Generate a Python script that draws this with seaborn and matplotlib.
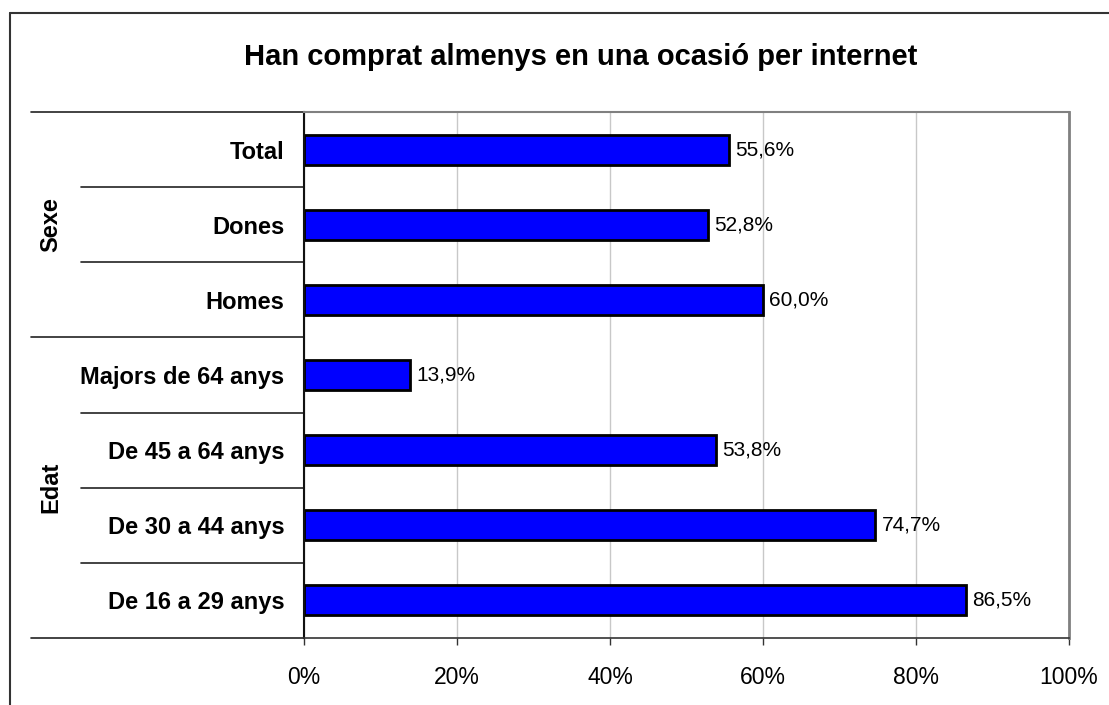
import matplotlib
matplotlib.use('Agg')
import matplotlib.pyplot as plt
import seaborn as sns
import pandas as pd
from matplotlib.lines import Line2D
from matplotlib.transforms import blended_transform_factory

categories = ["Total", "Dones", "Homes", "Majors de 64 anys",
              "De 45 a 64 anys", "De 30 a 44 anys", "De 16 a 29 anys"]
values = [55.6, 52.8, 60.0, 13.9, 53.8, 74.7, 86.5]
groups = ["Sexe", "Edat"]
group_spans = [(0, 2), (3, 6)]
xticks = [0, 20, 40, 60, 80, 100]
title = "Han comprat almenys en una ocasió per internet"

sns.set_theme(style='white')
plt.rcParams['font.family'] = ['Liberation Sans', 'DejaVu Sans']
plt.rcParams['text.color'] = 'black'
plt.rcParams['xtick.labelcolor'] = 'black'
plt.rcParams['ytick.labelcolor'] = 'black'
plt.rcParams['axes.labelcolor'] = 'black'

W, H = 1109, 705
fig = plt.figure(figsize=(W / 100, H / 100), dpi=100)
left_px, right_px, top_px, bot_px = 304, 1069, 112, 638
ax = fig.add_axes([left_px / W, 1 - bot_px / H, (right_px - left_px) / W, (bot_px - top_px) / H])

df = pd.DataFrame({'cat': categories, 'val': values})
sns.barplot(data=df, y='cat', x='val', orient='h', color='#0000FF', saturation=1,
            width=0.4, edgecolor='black', linewidth=2, ax=ax)

ax.set_xlim(0, 100)
ax.set_ylim(6.5, -0.5)
ax.set_xticks(xticks)
ax.set_xticklabels([f"{t}%" for t in xticks], fontsize=16.5, color='black')
ax.set_yticks(range(len(categories)))
ax.set_yticklabels(categories, fontweight='bold', fontsize=17, color='black')
ax.set_xlabel('')
ax.set_ylabel('')
ax.xaxis.grid(True, color='#c8c8c8', lw=1)
ax.yaxis.grid(False)
ax.set_axisbelow(True)

ax.tick_params(axis='x', bottom=True, direction='out', length=5, width=1, color='#333333', pad=15)
ax.tick_params(axis='y', left=False, length=0, pad=14)

for s in ['top', 'right']:
    ax.spines[s].set_color('#808080')
    ax.spines[s].set_linewidth(2)
ax.spines['top'].set_linewidth(1.5)
ax.spines['left'].set_color('#111111')
ax.spines['left'].set_linewidth(1.5)
ax.spines['bottom'].set_color('#333333')
ax.spines['bottom'].set_linewidth(1.2)

for i, v in enumerate(values):
    ax.text(v + 0.8, i, f"{v:.1f}%".replace('.', ','), va='center', ha='left',
            fontsize=15, color='black')

trans = blended_transform_factory(ax.transAxes, ax.transData)
long_x = (31 - left_px) / (right_px - left_px)
short_x = (81 - left_px) / (right_px - left_px)
n = len(categories)
group_bounds = [-0.5] + [e + 0.5 for _, e in group_spans]
for k in range(n + 1):
    y = k - 0.5
    x0 = long_x if y in group_bounds else short_x
    ax.plot([x0, 0], [y, y], transform=trans, clip_on=False, color='#222222', lw=1.2)

grp_x = (51 - left_px) / (right_px - left_px)
for g, (s, e) in zip(groups, group_spans):
    ax.text(grp_x, (s + e) / 2, g, rotation=90, fontweight='bold', fontsize=17,
            ha='center', va='center', transform=trans, color='black')

fig.text(581 / W, 1 - 57 / H, title, ha='center', va='center', fontsize=21,
         fontweight='bold', color='black')

bx, by = 10 / W, 1 - 13 / H
fig.add_artist(Line2D([bx, bx], [0, by], color='#333333', lw=1.5, transform=fig.transFigure))
fig.add_artist(Line2D([bx, 1], [by, by], color='#333333', lw=1.5, transform=fig.transFigure))

fig.savefig('out.png', dpi=100)
